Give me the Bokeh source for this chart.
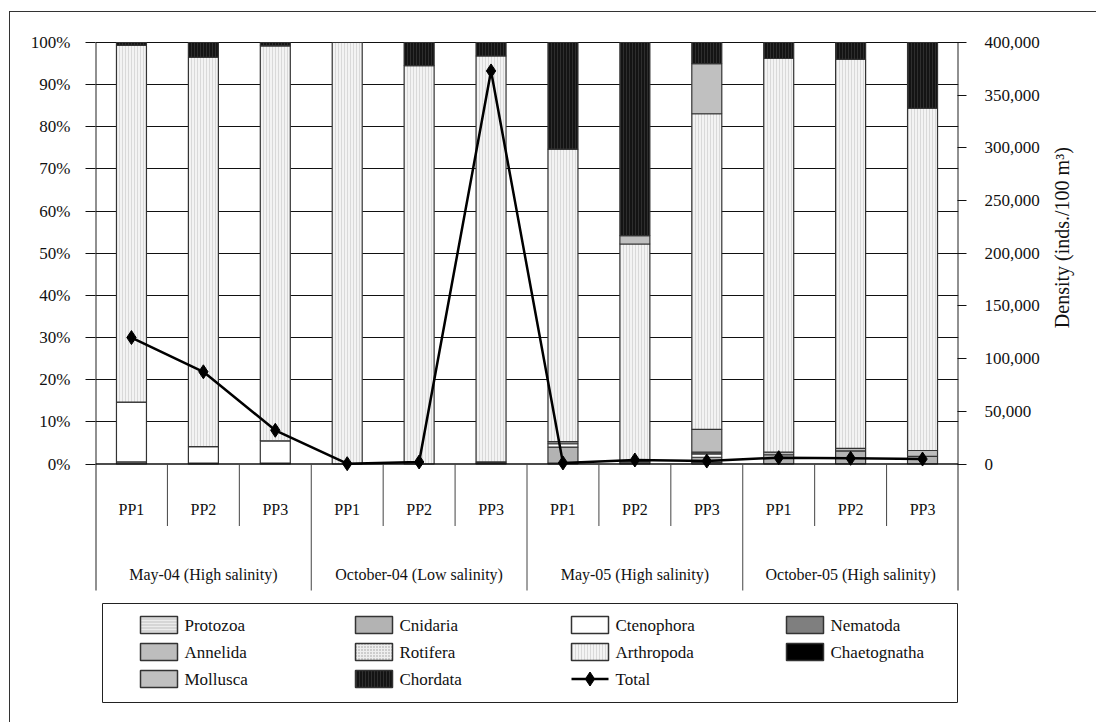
import math
import numpy as np
from bokeh.plotting import figure
from bokeh.layouts import row
from bokeh.models import (Range1d, LinearAxis, FixedTicker, NumeralTickFormatter,
                          PrintfTickFormatter, ColumnDataSource)
from bokeh.core.properties import value
from bokeh.embed import file_html
from bokeh.resources import INLINE

# ---------------- data ----------------
months = ["May-04 (High salinity)", "October-04 (Low salinity)",
          "May-05 (High salinity)", "October-05 (High salinity)"]
stations = ["PP1", "PP2", "PP3"]

# percentage composition per bar (12 bars: 4 months x 3 stations)
protozoa     = [0.0, 0.0, 0.0, 0.0, 0.0, 0.2, 0.2, 0.3, 0.4, 0.0, 0.0, 0.0]
cnidaria     = [0.5, 0.2, 0.2, 0.0, 0.0, 0.3, 3.8, 0.3, 1.2, 2.2, 3.1, 1.8]
ctenophora   = [14.2, 3.9, 5.3, 0.0, 0.0, 0.0, 0.8, 0.0, 0.8, 0.0, 0.0, 0.0]
nematoda     = [0.0, 0.0, 0.0, 0.0, 0.0, 0.0, 0.0, 0.0, 0.4, 0.0, 0.0, 0.0]
annelida     = [0.0, 0.0, 0.0, 0.0, 0.0, 0.0, 0.5, 0.0, 5.4, 0.6, 0.6, 1.4]
rotifera     = [0.0, 0.0, 0.0, 0.0, 0.0, 0.0, 0.0, 0.0, 0.0, 0.0, 0.0, 0.0]
arthropoda   = [84.6, 92.4, 93.7, 100.0, 94.5, 96.3, 69.4, 51.6, 74.9, 93.4, 92.3, 81.2]
chaetognatha = [0.0, 0.0, 0.0, 0.0, 0.0, 0.0, 0.0, 0.0, 0.0, 0.0, 0.0, 0.0]
mollusca     = [0.0, 0.0, 0.0, 0.0, 0.0, 0.0, 0.0, 2.0, 11.9, 0.0, 0.0, 0.0]
chordata     = [0.7, 3.5, 0.8, 0.0, 5.5, 3.2, 25.3, 45.8, 5.0, 3.8, 4.0, 15.6]

# total density (inds./100 m3)
total_density = [120000, 87500, 32000, 300, 1900, 373000, 1000, 3800, 2800, 6000, 5400, 4700]

pct_ticks = [0, 10, 20, 30, 40, 50, 60, 70, 80, 90, 100]
density_ticks = [0, 50000, 100000, 150000, 200000, 250000, 300000, 350000, 400000]
density_title = "Density (inds./100 m\u00b3)"

series_names = ["Protozoa", "Cnidaria", "Ctenophora", "Nematoda", "Annelida",
                "Rotifera", "Arthropoda", "Chaetognatha", "Mollusca", "Chordata"]
series_values = [protozoa, cnidaria, ctenophora, nematoda, annelida,
                 rotifera, arthropoda, chaetognatha, mollusca, chordata]

# ---------------- styles ----------------
STYLE = {
    "Protozoa":     dict(fill_color="#d6d6d6", hatch_pattern="horizontal_line", hatch_color="#ececec", hatch_scale=3, hatch_weight=1),
    "Cnidaria":     dict(fill_color="#b3b3b3"),
    "Ctenophora":   dict(fill_color="#ffffff"),
    "Nematoda":     dict(fill_color="#7f7f7f"),
    "Annelida":     dict(fill_color="#bdbdbd"),
    "Rotifera":     dict(fill_color="#eeeeee", hatch_pattern="dot", hatch_color="#9a9a9a", hatch_scale=3, hatch_weight=1),
    "Arthropoda":   dict(fill_color="#f3f3f3", hatch_pattern="vertical_line", hatch_color="#d9d9d9", hatch_scale=3, hatch_weight=1),
    "Chaetognatha": dict(fill_color="#000000"),
    "Mollusca":     dict(fill_color="#c0c0c0"),
    "Chordata":     dict(fill_color="#141414", hatch_pattern="vertical_line", hatch_color="#2e2e2e", hatch_scale=3, hatch_weight=1),
}
SERIF = "Liberation Serif"
EDGE = "#333333"

# ---------------- geometry (pixels) ----------------
W, H = 1096, 722
MAIN_W = 1045
FRAME_L, FRAME_R, FRAME_T, FRAME_B = 95, 958, 41, 722
Y100_PX, Y0_PX = 42.0, 463.5
N = len(months) * len(stations)
PX_PER_PCT = (Y0_PX - Y100_PX) / 100.0
PX_PER_CAT = (FRAME_R - FRAME_L) / N
DENS_PER_PCT = density_ticks[-1] / 100.0


def xd(px):
    return (px - FRAME_L) / PX_PER_CAT


def yd(py):
    return (Y0_PX - py) / PX_PER_PCT


y_start, y_end = yd(FRAME_B), yd(FRAME_T)

p = figure(width=MAIN_W, height=H, title=None,
           x_range=Range1d(0, N), y_range=Range1d(y_start, y_end),
           output_backend="svg", toolbar_location=None, x_axis_location=None,
           min_border_left=FRAME_L, min_border_right=MAIN_W - FRAME_R,
           min_border_top=FRAME_T, min_border_bottom=0,
           outline_line_color=None, background_fill_color="white",
           border_fill_color=None)

p.extra_y_ranges = {"density": Range1d(y_start * DENS_PER_PCT, y_end * DENS_PER_PCT)}

# left axis (percent)
ax = p.yaxis[0]
ax.ticker = FixedTicker(ticks=pct_ticks)
ax.formatter = PrintfTickFormatter(format="%d%%")
ax.axis_line_color = None
ax.major_tick_out = 10
ax.major_tick_in = 0
ax.major_tick_line_color = "#111111"
ax.minor_tick_line_color = None
ax.major_label_standoff = 15
ax.major_label_text_font = SERIF
ax.major_label_text_font_size = "17px"
ax.major_label_text_color = "#111111"

# right axis (density)
rax = LinearAxis(y_range_name="density", ticker=FixedTicker(ticks=density_ticks),
                 formatter=NumeralTickFormatter(format="0,0"))
rax.axis_line_color = None
rax.major_tick_out = 8
rax.major_tick_in = 1
rax.major_tick_line_color = "#111111"
rax.minor_tick_line_color = None
rax.major_label_standoff = 18
rax.major_label_text_font = SERIF
rax.major_label_text_font_size = "17px"
rax.major_label_text_color = "#111111"
p.add_layout(rax, "right")

p.ygrid.ticker = FixedTicker(ticks=pct_ticks[1:])
p.ygrid.grid_line_color = "#111111"
p.ygrid.grid_line_width = 1
for g in p.xgrid:
    g.visible = False

# ---------------- stacked bars ----------------
x_centers = np.arange(N) + 0.5
BAR_W = 30.0 / PX_PER_CAT
cum = np.zeros(N)
for name, vals in zip(series_names, series_values):
    v = np.asarray(vals, dtype=float)
    mask = v > 0
    if mask.any():
        src = ColumnDataSource(dict(x=x_centers[mask], bottom=cum[mask], top=(cum + v)[mask]))
        p.vbar(x="x", bottom="bottom", top="top", width=BAR_W, source=src,
               line_color=EDGE, line_width=1.2, **STYLE[name])
    cum = cum + v

# ---------------- axis lines & category table ----------------
table_bottom = yd(590)
short_sep = yd(525.5)
p.segment(x0=[0, N], y0=[table_bottom, table_bottom], x1=[0, N], y1=[100, 100],
          line_color="#222222", line_width=2)
p.segment(x0=[0], y0=[0], x1=[N], y1=[0], line_color="#111111", line_width=1.5)
n_st = len(stations)
minor_b = [b for b in range(1, N) if b % n_st != 0]
major_b = [b for b in range(1, N) if b % n_st == 0]
p.segment(x0=minor_b, y0=[0] * len(minor_b), x1=minor_b, y1=[short_sep] * len(minor_b),
          line_color="#444444", line_width=1)
p.segment(x0=major_b, y0=[0] * len(major_b), x1=major_b, y1=[table_bottom] * len(major_b),
          line_color="#444444", line_width=1)

p.text(x=x_centers, y=[yd(509)] * N, text=stations * len(months),
       text_font=value(SERIF), text_font_size="16px", text_color="#111111",
       text_align="center", text_baseline="middle")
group_x = np.arange(len(months)) * n_st + n_st / 2.0
p.text(x=group_x, y=[yd(574)] * len(months), text=months,
       text_font=value(SERIF), text_font_size="16px", text_color="#111111",
       text_align="center", text_baseline="middle")

# ---------------- total density line ----------------
p.line(x_centers, total_density, y_range_name="density", line_color="#000000", line_width=2.5)
p.scatter(x_centers, total_density, y_range_name="density", marker="diamond", size=14,
          fill_color="#000000", line_color="#000000")

# ---------------- legend ----------------
p.quad(left=[xd(102)], right=[xd(957)], top=[yd(603)], bottom=[yd(702)],
       fill_color=None, line_color="#222222", line_width=1)
col_left_px = [140, 355, 571, 786]
row_mid_px = [624.5, 651.5, 678.5]
SW, SH = 37, 17
for k, name in enumerate(series_names + ["Total"]):
    r, c = divmod(k, 4)
    lx = col_left_px[c]
    my = row_mid_px[r]
    if name == "Total":
        p.line([xd(lx), xd(lx + SW)], [yd(my), yd(my)], line_color="#000000", line_width=2.5)
        p.scatter([xd(lx + SW / 2)], [yd(my)], marker="diamond", size=14,
                  fill_color="#000000", line_color="#000000")
    else:
        p.rect(x=[xd(lx + SW / 2)], y=[yd(my)], width=SW, height=SH,
               width_units="screen", height_units="screen",
               line_color=EDGE, line_width=1.5, **STYLE[name])
    p.text(x=[xd(lx + SW + 7)], y=[yd(my)], text=[name],
           text_font=value(SERIF), text_font_size="17px", text_color="#111111",
           text_align="left", text_baseline="middle")

# ---------------- strip on the right holding the density axis title ----------------
s = figure(width=W - MAIN_W, height=H, title=None,
           x_range=Range1d(MAIN_W, W), y_range=Range1d(H, 0),
           output_backend="svg", toolbar_location=None,
           x_axis_location=None, y_axis_location=None,
           min_border=0, outline_line_color=None,
           background_fill_color=None, border_fill_color=None)
for g in s.xgrid + s.ygrid:
    g.visible = False
s.text(x=[1061], y=[208], text=[density_title], angle=math.pi / 2,
       text_font=value(SERIF), text_font_size="20px", text_color="#111111",
       text_align="center", text_baseline="middle")

# outer frame lines of the original figure (CSS background of the container)
frame_css = ("linear-gradient(#333,#333) 9px 11px / 1px 100% no-repeat, "
             "linear-gradient(#333,#333) 9px 11px / 100% 1px no-repeat, #ffffff")
layout = row(p, s, spacing=0, styles={"background": frame_css})

open("out.html", "w").write(file_html(layout, INLINE))
